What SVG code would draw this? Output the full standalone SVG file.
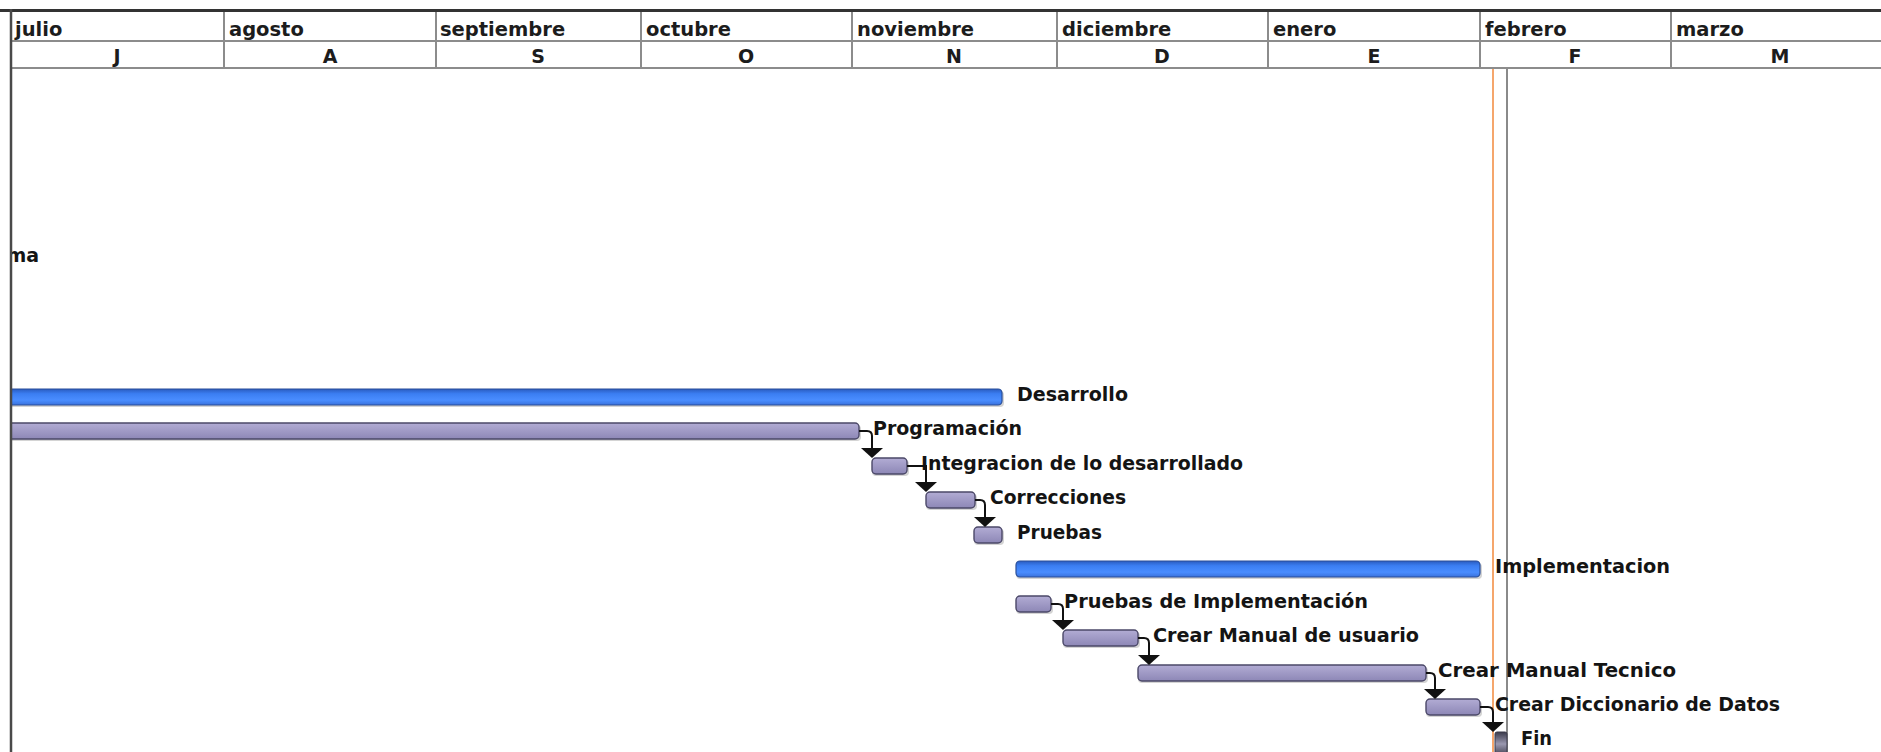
<svg xmlns="http://www.w3.org/2000/svg" width="1881" height="752" viewBox="0 0 1881 752">
<style>
.hdr{font-family:"DejaVu Sans",sans-serif;font-weight:bold;font-size:19.5px;fill:#1c1c1c}
.ltr{font-family:"DejaVu Sans",sans-serif;font-weight:bold;font-size:19px;fill:#1c1c1c;text-anchor:middle}
.lbl{font-family:"DejaVu Sans",sans-serif;font-weight:bold;font-size:19px;fill:#141414}
.grid{stroke:#8c8c8c;stroke-width:2;fill:none}
.task{fill:url(#gTask);stroke:#4b4868;stroke-width:1.4}
.sum{fill:url(#gSum);stroke:#2a4f99;stroke-width:1.2}
.shadow{fill:#d4d4d4}
.conn{stroke:#111;stroke-width:2;fill:none}
.arr{fill:#111}
</style>
<defs>
<linearGradient id="gTask" x1="0" y1="0" x2="0" y2="1">
<stop offset="0" stop-color="#b2acd4"/><stop offset="1" stop-color="#8d87b6"/>
</linearGradient>
<linearGradient id="gSum" x1="0" y1="0" x2="0" y2="1">
<stop offset="0" stop-color="#2a5cc0"/><stop offset="0.3" stop-color="#3b7ef2"/><stop offset="0.7" stop-color="#4a8dff"/><stop offset="1" stop-color="#3a72dc"/>
</linearGradient>
<linearGradient id="gFin" x1="0" y1="0" x2="0" y2="1">
<stop offset="0" stop-color="#3a3a4a"/><stop offset="0.5" stop-color="#9a98b0"/><stop offset="1" stop-color="#3a3a4a"/>
</linearGradient>
<clipPath id="chart"><rect x="12" y="69" width="1869" height="683"/></clipPath>
</defs>
<rect x="0" y="0" width="1881" height="752" fill="#fff"/>

<g id="timescale">
<line class="grid" x1="11" y1="41" x2="1881" y2="41"/>
<line class="grid" x1="11" y1="68" x2="1881" y2="68"/>
<line class="grid" x1="224" y1="12" x2="224" y2="68"/>
<line class="grid" x1="436" y1="12" x2="436" y2="68"/>
<line class="grid" x1="641" y1="12" x2="641" y2="68"/>
<line class="grid" x1="852" y1="12" x2="852" y2="68"/>
<line class="grid" x1="1057" y1="12" x2="1057" y2="68"/>
<line class="grid" x1="1268" y1="12" x2="1268" y2="68"/>
<line class="grid" x1="1480" y1="12" x2="1480" y2="68"/>
<line class="grid" x1="1671" y1="12" x2="1671" y2="68"/>
<line x1="0" y1="10.5" x2="1881" y2="10.5" stroke="#333" stroke-width="3"/>
<text class="hdr" x="15" y="36">julio</text>
<text class="hdr" x="229" y="36">agosto</text>
<text class="hdr" x="440" y="36">septiembre</text>
<text class="hdr" x="646" y="36">octubre</text>
<text class="hdr" x="857" y="36">noviembre</text>
<text class="hdr" x="1062" y="36">diciembre</text>
<text class="hdr" x="1273" y="36">enero</text>
<text class="hdr" x="1485" y="36">febrero</text>
<text class="hdr" x="1676" y="36">marzo</text>
<text class="ltr" x="117" y="63">J</text>
<text class="ltr" x="330" y="63">A</text>
<text class="ltr" x="538" y="63">S</text>
<text class="ltr" x="746" y="63">O</text>
<text class="ltr" x="954" y="63">N</text>
<text class="ltr" x="1162" y="63">D</text>
<text class="ltr" x="1374" y="63">E</text>
<text class="ltr" x="1575" y="63">F</text>
<text class="ltr" x="1780" y="63">M</text>
</g>

<g id="markers">
<line x1="1493" y1="69" x2="1493" y2="752" stroke="#f5a66c" stroke-width="2"/>
<line x1="1507" y1="69" x2="1507" y2="752" stroke="#8a8a8a" stroke-width="2"/>
</g>

<g id="task-ma" clip-path="url(#chart)">
<text class="lbl" x="39" y="262" text-anchor="end">ma</text>
</g>

<g id="task-desarrollo" clip-path="url(#chart)">
<rect class="shadow" x="0" y="391" width="1004" height="16" rx="4"/>
<rect class="sum" x="0" y="389" width="1002" height="16" rx="4"/>
<text class="lbl" x="1017" y="401" textLength="111" lengthAdjust="spacingAndGlyphs">Desarrollo</text>
</g>

<g id="task-programacion" clip-path="url(#chart)">
<rect class="shadow" x="0" y="425" width="861" height="16" rx="4"/>
<rect class="task" x="0" y="423" width="859" height="16" rx="4"/>
<text class="lbl" x="873" y="435" textLength="149" lengthAdjust="spacingAndGlyphs">Programación</text>
</g>

<g id="task-integracion">
<rect class="shadow" x="872" y="460" width="37" height="16" rx="4"/>
<rect class="task" x="872" y="458" width="35" height="16" rx="4"/>
<text class="lbl" x="921" y="470" textLength="322" lengthAdjust="spacingAndGlyphs">Integracion de lo desarrollado</text>
</g>

<g id="task-correcciones">
<rect class="shadow" x="926" y="494" width="51" height="16" rx="4"/>
<rect class="task" x="926" y="492" width="49" height="16" rx="4"/>
<text class="lbl" x="990" y="504" textLength="136" lengthAdjust="spacingAndGlyphs">Correcciones</text>
</g>

<g id="task-pruebas">
<rect class="shadow" x="974" y="529" width="30" height="16" rx="4"/>
<rect class="task" x="974" y="527" width="28" height="16" rx="4"/>
<text class="lbl" x="1017" y="539" textLength="85" lengthAdjust="spacingAndGlyphs">Pruebas</text>
</g>

<g id="task-implementacion">
<rect class="shadow" x="1016" y="563" width="466" height="16" rx="4"/>
<rect class="sum" x="1016" y="561" width="464" height="16" rx="4"/>
<text class="lbl" x="1495" y="573" textLength="175" lengthAdjust="spacingAndGlyphs">Implementacion</text>
</g>

<g id="task-pruebas-impl">
<rect class="shadow" x="1016" y="598" width="37" height="16" rx="4"/>
<rect class="task" x="1016" y="596" width="35" height="16" rx="4"/>
<text class="lbl" x="1064" y="608" textLength="304" lengthAdjust="spacingAndGlyphs">Pruebas de Implementación</text>
</g>

<g id="task-manual-usuario">
<rect class="shadow" x="1063" y="632" width="77" height="16" rx="4"/>
<rect class="task" x="1063" y="630" width="75" height="16" rx="4"/>
<text class="lbl" x="1153" y="642" textLength="266" lengthAdjust="spacingAndGlyphs">Crear Manual de usuario</text>
</g>

<g id="task-manual-tecnico">
<rect class="shadow" x="1138" y="667" width="290" height="16" rx="4"/>
<rect class="task" x="1138" y="665" width="288" height="16" rx="4"/>
<text class="lbl" x="1438" y="677" textLength="238" lengthAdjust="spacingAndGlyphs">Crear Manual Tecnico</text>
</g>

<g id="task-diccionario">
<rect class="shadow" x="1426" y="701" width="56" height="16" rx="4"/>
<rect class="task" x="1426" y="699" width="54" height="16" rx="4"/>
<text class="lbl" x="1495" y="711" textLength="285" lengthAdjust="spacingAndGlyphs">Crear Diccionario de Datos</text>
</g>

<g id="task-fin">
<rect x="1495" y="732" width="12" height="24" rx="2" fill="url(#gFin)" stroke="#3a3a4a" stroke-width="1"/>
<text class="lbl" x="1521" y="745" textLength="31" lengthAdjust="spacingAndGlyphs">Fin</text>
</g>

<g id="connectors">
<path class="conn" d="M859 431 H867 Q872 431 872 436 V449"/>
<polygon class="arr" points="861,448 883,448 872,458"/>
<path class="conn" d="M907 466 H926 V483"/>
<polygon class="arr" points="915,482 937,482 926,492"/>
<path class="conn" d="M975 500 H980 Q985 500 985 505 V518"/>
<polygon class="arr" points="974,517 996,517 985,527"/>
<path class="conn" d="M1051 604 H1058 Q1063 604 1063 609 V621"/>
<polygon class="arr" points="1052,620 1074,620 1063,630"/>
<path class="conn" d="M1138 638 H1144 Q1149 638 1149 643 V656"/>
<polygon class="arr" points="1138,655 1160,655 1149,665"/>
<path class="conn" d="M1426 673 H1430 Q1435 673 1435 678 V690"/>
<polygon class="arr" points="1424,689 1446,689 1435,699"/>
<path class="conn" d="M1480 707 H1488 Q1493 707 1493 712 V723"/>
<polygon class="arr" points="1482,722 1504,722 1493,732"/>
</g>

<line x1="11" y1="9" x2="11" y2="752" stroke="#4a4a4a" stroke-width="2.5"/>
</svg>
